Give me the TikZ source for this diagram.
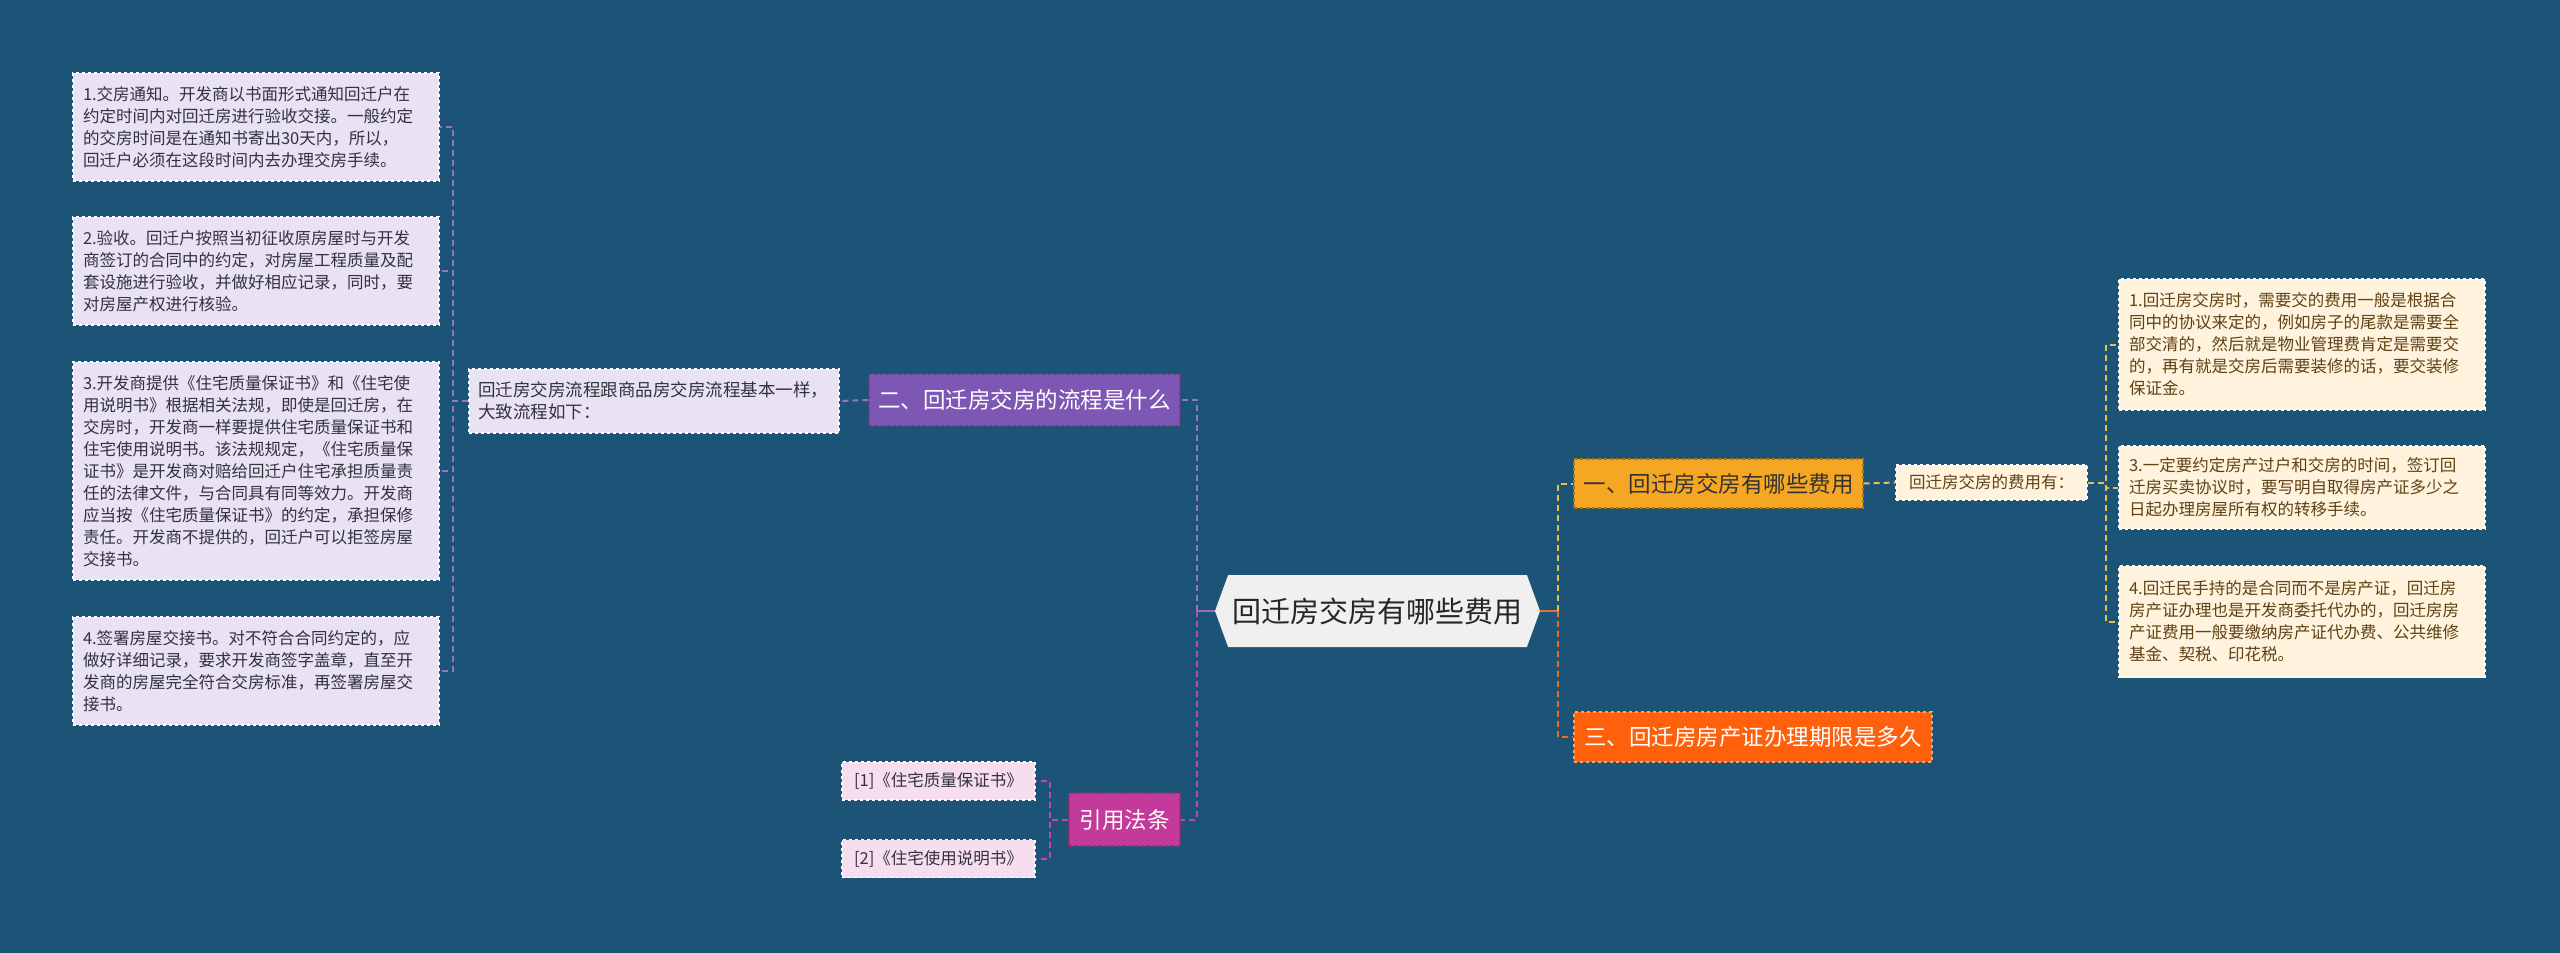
\documentclass[tikz,border=0pt]{standalone}
\usepackage{fontspec}
\setmainfont{Noto Sans CJK SC}
\usetikzlibrary{shapes.symbols}
\definecolor{bgblue}{RGB}{27,84,118}
\definecolor{lavender}{RGB}{232,226,242}
\definecolor{pinkish}{RGB}{246,222,238}
\definecolor{cream}{RGB}{255,243,222}
\definecolor{ink}{RGB}{50,50,60}
\definecolor{brownink}{RGB}{95,65,20}
\definecolor{purplenode}{RGB}{126,87,180}
\definecolor{magentanode}{RGB}{196,58,154}
\definecolor{yellownode}{RGB}{245,166,35}
\definecolor{orangenode}{RGB}{255,96,12}
\definecolor{pline}{RGB}{145,118,198}
\definecolor{mline}{RGB}{200,70,160}
\definecolor{yline}{RGB}{236,190,80}
\definecolor{oline}{RGB}{235,110,40}
\begin{document}
\begin{tikzpicture}[x=1pt,y=-1pt,
	leaf/.style={draw=white,dashed,line width=1.2pt,fill=lavender,text=ink,align=left,
		inner xsep=10pt,inner ysep=10pt,text width=346pt,font=\fontsize{16.5}{22}\selectfont},
	rleaf/.style={leaf,fill=cream,text=brownink},
	topic/.style={dashed,line width=1.2pt,text=white,align=center,inner sep=2pt,
		font=\fontsize{22.5}{26}\selectfont},
	edge/.style={line width=2pt,dash pattern=on 6pt off 4pt}]
	\fill[bgblue] (0,0) rectangle (2560,953);
	\useasboundingbox (0,0) rectangle (2560,953);
	%	giữa
	\node[shape=signal,signal to=west and east,signal pointer angle=140,fill=black!6,text=black!85,
		minimum width=325pt,minimum height=72pt,inner xsep=2pt,font=\fontsize{29}{32}\selectfont]
		(R) at (1377.5,611) {回迁房交房有哪些费用};
	%	trái
	\node[topic,fill=purplenode,draw=purplenode!75!black,minimum width=311pt,minimum height=52pt]
		(P) at (1024.5,400) {二、回迁房交房的流程是什么};
	\node[leaf,text width=352pt,inner xsep=9pt,minimum height=64pt,font=\fontsize{17.5}{22}\selectfont]
		(D) at (654,401) {回迁房交房流程跟商品房交房流程基本一样，\\大致流程如下：};
	\node[leaf,minimum height=108pt] (L1) at (256,127) {1.交房通知。开发商以书面形式通知回迁户在\\约定时间内对回迁房进行验收交接。一般约定\\的交房时间是在通知书寄出30天内，所以，\\回迁户必须在这段时间内去办理交房手续。};
	\node[leaf,minimum height=108pt] (L2) at (256,271) {2.验收。回迁户按照当初征收原房屋时与开发\\商签订的合同中的约定，对房屋工程质量及配\\套设施进行验收，并做好相应记录，同时，要\\对房屋产权进行核验。};
	\node[leaf,minimum height=218pt] (L3) at (256,471) {3.开发商提供《住宅质量保证书》和《住宅使\\用说明书》根据相关法规，即使是回迁房，在\\交房时，开发商一样要提供住宅质量保证书和\\住宅使用说明书。该法规规定，《住宅质量保\\证书》是开发商对赔给回迁户住宅承担质量责\\任的法律文件，与合同具有同等效力。开发商\\应当按《住宅质量保证书》的约定，承担保修\\责任。开发商不提供的，回迁户可以拒签房屋\\交接书。};
	\node[leaf,minimum height=108pt] (L4) at (256,671) {4.签署房屋交接书。对不符合合同约定的，应\\做好详细记录，要求开发商签字盖章，直至开\\发商的房屋完全符合交房标准，再签署房屋交\\接书。};
	\node[topic,fill=magentanode,draw=magentanode!75!black,minimum width=111pt,minimum height=53pt]
		(C) at (1124.5,819.5) {引用法条};
	\node[leaf,fill=pinkish,text width=,align=center,inner sep=2pt,minimum width=193pt,minimum height=38pt]
		(F1) at (938.5,781) {[1]《住宅质量保证书》};
	\node[leaf,fill=pinkish,text width=,align=center,inner sep=2pt,minimum width=193pt,minimum height=38pt]
		(F2) at (938.5,858.5) {[2]《住宅使用说明书》};
	%	phải
	\node[topic,fill=yellownode,draw=yellownode!70!black,text=black!80,minimum width=289pt,minimum height=49pt]
		(Y) at (1718.5,483.5) {一、回迁房交房有哪些费用};
	\node[topic,fill=orangenode,draw=orangenode!60!white,minimum width=358pt,minimum height=50pt]
		(O) at (1753,737) {三、回迁房房产证办理期限是多久};
	\node[rleaf,text width=,align=center,inner sep=2pt,minimum width=191pt,minimum height=35pt]
		(RD) at (1991.5,482.5) {回迁房交房的费用有：};
	\node[rleaf,minimum height=131pt] (G1) at (2302,344.5) {1.回迁房交房时，需要交的费用一般是根据合\\同中的协议来定的，例如房子的尾款是需要全\\部交清的，然后就是物业管理费肯定是需要交\\的，再有就是交房后需要装修的话，要交装修\\保证金。};
	\node[rleaf,minimum height=83pt] (G3) at (2302,487.5) {3.一定要约定房产过户和交房的时间，签订回\\迁房买卖协议时，要写明自取得房产证多少之\\日起办理房屋所有权的转移手续。};
	\node[rleaf,minimum height=112pt] (G4) at (2302,621.5) {4.回迁民手持的是合同而不是房产证，回迁房\\房产证办理也是开发商委托代办的，回迁房房\\产证费用一般要缴纳房产证代办费、公共维修\\基金、契税、印花税。};
	%	nối
	\foreach \x in {L1,L2,L3,L4}\draw[edge,pline] (D.west)--++(-15,0)|-(\x.east);
	\draw[edge,pline] (P.west)--(D.east);
	\draw[edge,pline] (R.west)++(-18,0)|-(P.east);
	\draw[edge,mline] (R.west)++(-18,0)|-(C.east);
	\draw[line width=2pt,pline!80!mline] (R.west)--++(-18,0);
	\foreach \x in {F1,F2}\draw[edge,mline] (C.west)--++(-18,0)|-(\x.east);
	\draw[line width=2pt,oline] (R.east)--++(18,0);
	\draw[edge,yline] (R.east)++(18,0)|-(Y.west);
	\draw[edge,oline] (R.east)++(18,0)|-(O.west);
	\draw[edge,yline] (Y.east)--(RD.west);
	\foreach \x in {G1,G3,G4}\draw[edge,yline] (RD.east)--++(18,0)|-(\x.west);
\end{tikzpicture}
\end{document}
